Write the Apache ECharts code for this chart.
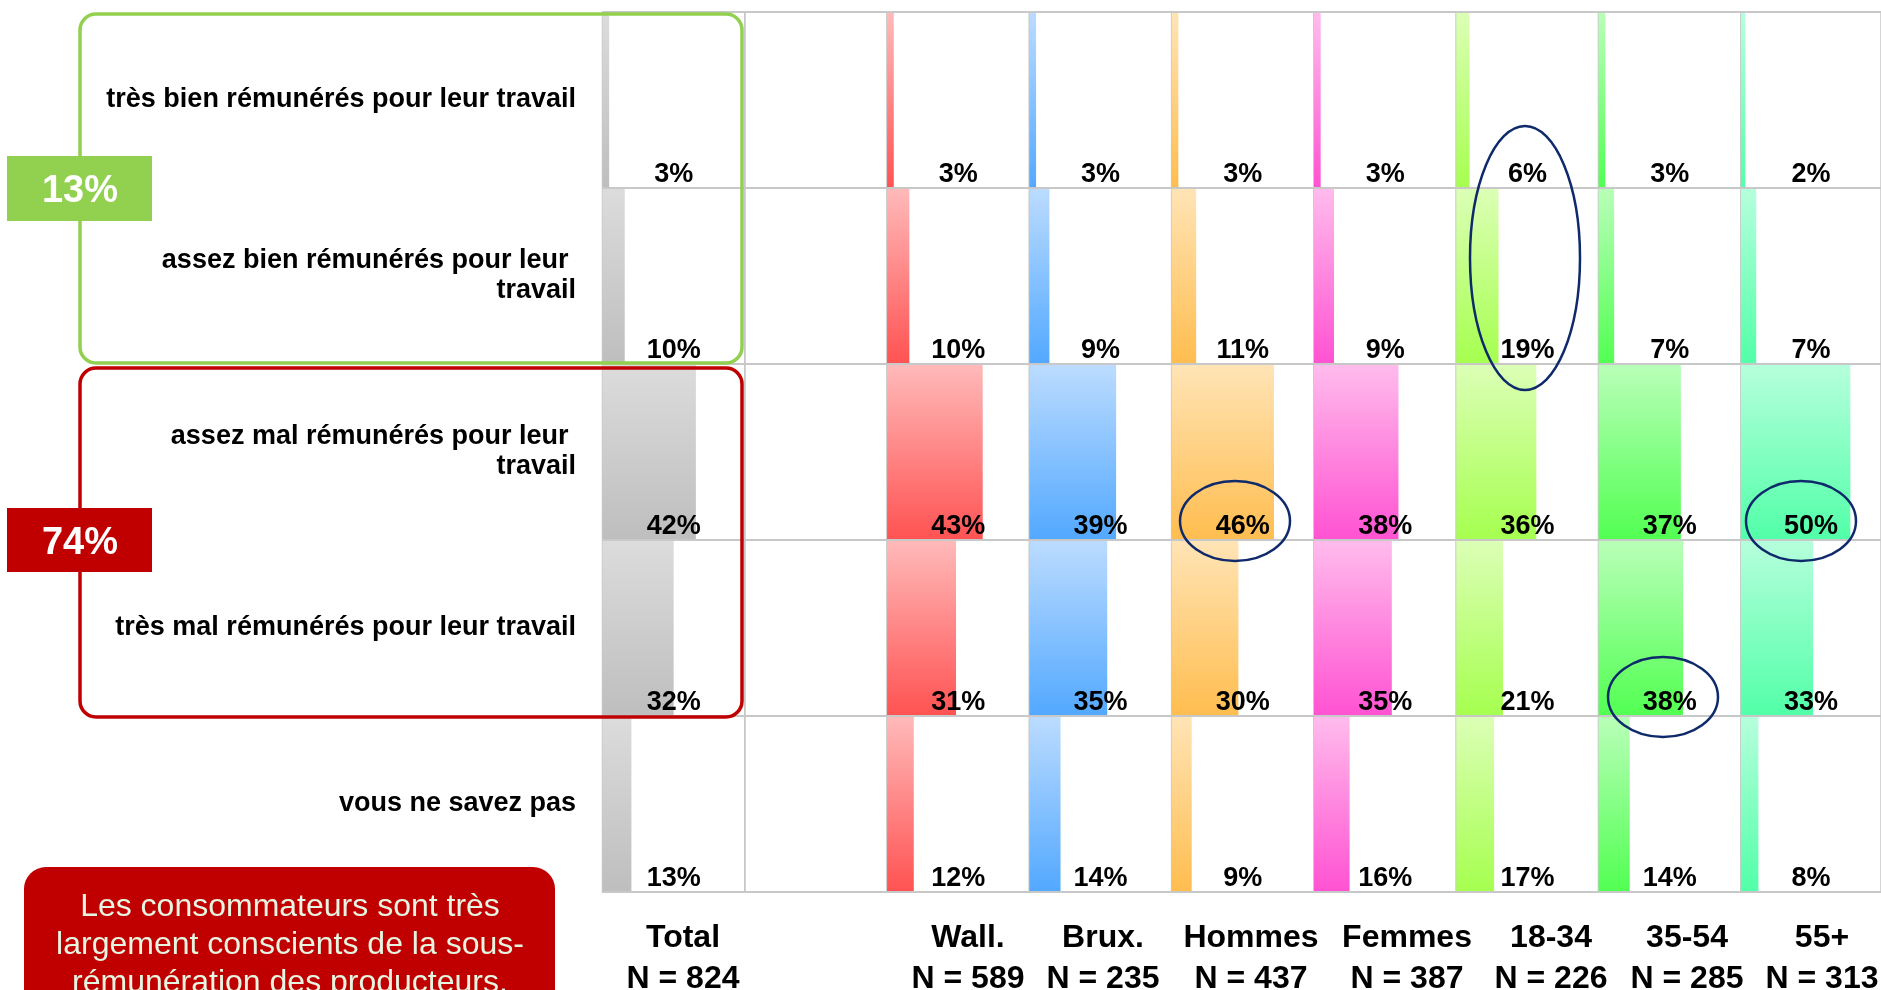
<!DOCTYPE html>
<html>
<head>
<meta charset="utf-8">
<script src="https://cdn.jsdelivr.net/npm/echarts@6/dist/echarts.min.js"></script>
<style>
html,body{margin:0;padding:0;background:#ffffff;}
#chart{width:1881px;height:990px;}
</style>
</head>
<body>
<div id="chart"></div>
<script>
// ---------- DATA ----------
const rowLabels = [
  'très bien rémunérés pour leur travail',
  'assez bien rémunérés pour leur \ntravail',
  'assez mal rémunérés pour leur \ntravail',
  'très mal rémunérés pour leur travail',
  'vous ne savez pas'
];
const groupNames = ['Total', '', 'Wall.', 'Brux.', 'Hommes', 'Femmes', '18-34', '35-54', '55+'];
const sampleSizes = ['N = 824', '', 'N = 589', 'N = 235', 'N = 437', 'N = 387', 'N = 226', 'N = 285', 'N = 313'];

const valuesTotal  = [3, 10, 42, 32, 13];
const valuesWall   = [3, 10, 43, 31, 12];
const valuesBrux   = [3, 9, 39, 35, 14];
const valuesHommes = [3, 11, 46, 30, 9];
const valuesFemmes = [3, 9, 38, 35, 16];
const values1834   = [6, 19, 36, 21, 17];
const values3554   = [3, 7, 37, 38, 14];
const values55     = [2, 7, 50, 33, 8];

const wellPaidShare  = '13%';
const underPaidShare = '74%';
const noteText = 'Les consommateurs sont très\nlargement conscients de la sous-\nrémunération des producteurs.';

// ---------- LAYOUT / STYLE ----------
const groupValues = [valuesTotal, null, valuesWall, valuesBrux, valuesHommes, valuesFemmes, values1834, values3554, values55];
const gradients = [
  ['#dcdcdc', '#bebebe'],
  null,
  ['#ffbaba', '#ff5252'],
  ['#bcdcff', '#52a8ff'],
  ['#ffe4b6', '#ffbd4f'],
  ['#ffbcec', '#ff52d2'],
  ['#dcffb6', '#a6ff4f'],
  ['#b9ffb9', '#52ff52'],
  ['#b6ffdc', '#52ffa8']
];
const headerX = [683, null, 968, 1103, 1251, 1407, 1551, 1687, 1822];
const X0 = 602.5, CW = 142.3, Y0 = 12, GH = 880, XMAX = 64;
const FONT = 'Liberation Sans, Arial, sans-serif';
const GRIDC = '#c8c8c8';

const chart = echarts.init(document.getElementById('chart'), null, {renderer: 'canvas'});

const grids = [], xAxes = [], yAxes = [], series = [];
groupNames.forEach((g, i) => {
  grids.push({left: X0 + i * CW, top: Y0, width: CW, height: GH, show: true,
    borderColor: GRIDC, borderWidth: 1.5, backgroundColor: 'transparent'});
  xAxes.push({type: 'value', gridIndex: i, min: 0, max: XMAX, show: false});
  yAxes.push({type: 'category', gridIndex: i, data: rowLabels, inverse: true, z: 3,
    axisLine: {show: false}, axisTick: {show: false},
    axisLabel: {show: i === 0, margin: 26.5, fontSize: 27, fontWeight: 'bold', color: '#000',
      fontFamily: FONT, lineHeight: 30, align: 'right'},
    splitLine: {show: true, lineStyle: {color: GRIDC, width: 2}}});
  const vals = groupValues[i];
  if (!vals) return;
  const grad = gradients[i];
  series.push({
    type: 'custom', coordinateSystem: 'cartesian2d', xAxisIndex: i, yAxisIndex: i,
    data: vals.map((v, r) => [v, r]), encode: {x: 0, y: 1},
    renderItem: function (params, api) {
      const v = api.value(0), r = api.value(1);
      const p0 = api.coord([0, r]);
      const p1 = api.coord([v, r]);
      const h = api.size([0, 1])[1];
      const cs = params.coordSys;
      return {type: 'group', children: [
        {type: 'rect', shape: {x: p0[0], y: p0[1] - h / 2, width: p1[0] - p0[0], height: h},
          style: {fill: new echarts.graphic.LinearGradient(0, 0, 0, 1,
            [{offset: 0, color: grad[0]}, {offset: 1, color: grad[1]}])}},
        {type: 'text', x: cs.x + cs.width / 2, y: p0[1] + h / 2 - 13.5, z2: 10,
          style: {text: v + '%', align: 'center', verticalAlign: 'middle', fontSize: 27,
            fontWeight: 'bold', fontFamily: FONT, fill: '#000'}}
      ]};
    }
  });
});

const graphics = [];
// headers
groupNames.forEach((g, i) => {
  if (!g) return;
  graphics.push({type: 'text', x: headerX[i], y: 958.5, z: 20,
    style: {text: g + '\n' + sampleSizes[i], align: 'center', verticalAlign: 'middle',
      fontSize: 32, fontWeight: 'bold', fontFamily: FONT, fill: '#000', lineHeight: 41}});
});
// bracket boxes
graphics.push({type: 'rect', z: 20, shape: {x: 80, y: 14, width: 662, height: 349, r: 16},
  style: {fill: 'none', stroke: '#92d050', lineWidth: 3.5}});
graphics.push({type: 'rect', z: 20, shape: {x: 80, y: 368, width: 662, height: 349, r: 16},
  style: {fill: 'none', stroke: '#c00000', lineWidth: 3.5}});
graphics.push({type: 'rect', z: 21, shape: {x: 7, y: 156, width: 145, height: 65},
  style: {fill: '#92d050'}});
graphics.push({type: 'text', z: 22, x: 80, y: 191.5,
  style: {text: wellPaidShare, align: 'center', verticalAlign: 'middle', fontSize: 38,
    fontWeight: 'bold', fontFamily: FONT, fill: '#ffffff'}});
graphics.push({type: 'rect', z: 21, shape: {x: 7, y: 508, width: 145, height: 64},
  style: {fill: '#c00000'}});
graphics.push({type: 'text', z: 22, x: 80, y: 544,
  style: {text: underPaidShare, align: 'center', verticalAlign: 'middle', fontSize: 38,
    fontWeight: 'bold', fontFamily: FONT, fill: '#ffffff'}});
// note box
graphics.push({type: 'rect', z: 21, shape: {x: 24, y: 867, width: 531, height: 160, r: 22},
  style: {fill: '#c00000'}});
graphics.push({type: 'text', z: 22, x: 290, y: 945.5,
  style: {text: noteText, align: 'center', verticalAlign: 'middle', fontSize: 32,
    fontFamily: FONT, fill: '#e6f5e1', lineHeight: 38}});
// highlight ellipses
const ellipses = [
  [1525, 258, 55, 132],
  [1235, 521, 55, 40],
  [1801, 521, 55, 40],
  [1663, 697, 55, 40]
];
ellipses.forEach(e => {
  graphics.push({type: 'ellipse', z: 30, shape: {cx: e[0], cy: e[1], rx: e[2], ry: e[3]},
    style: {fill: 'none', stroke: '#0f2a6b', lineWidth: 2.5}});
});

chart.setOption({
  backgroundColor: '#ffffff',
  animation: false,
  grid: grids,
  xAxis: xAxes,
  yAxis: yAxes,
  series: series,
  graphic: graphics
});
</script>
</body>
</html>
